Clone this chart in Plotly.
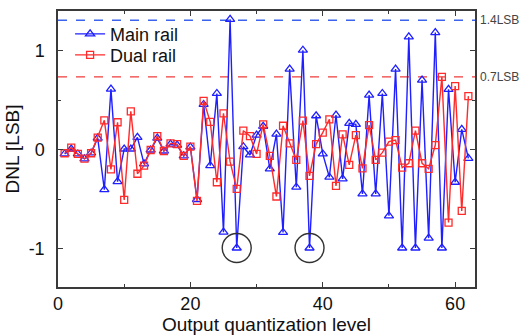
import plotly.graph_objects as go

# Output code index
levels = list(range(1, 63))

# DNL of the main-rail converter (LSB)
main_rail = [
    -0.04, 0.01, -0.04, -0.09, -0.03, 0.12, -0.40, 0.615, -0.32, 0.01,
    0.01, 0.128, -0.14, 0.0, 0.12, -0.01, 0.06, 0.05, -0.06, 0.03,
    -0.50, 0.46, -0.158, 0.571, -0.83, 1.32, -0.99, 0.033, -0.05, 0.15,
    0.24, -0.19, 0.161, -0.833, 0.817, -0.376, 1.008, -0.99, 0.346, -0.04,
    -0.275, 0.353, -0.292, 0.269, 0.259, -0.444, 0.554, -0.444, 0.571, -0.665,
    0.817, -0.99, 1.142, -0.99, 0.706, -0.89, 1.186, -0.99, 0.612, -0.326,
    0.208, -0.084,
]

# DNL of the dual-rail converter (LSB)
dual_rail = [
    -0.033, 0.023, -0.04, -0.088, -0.033, 0.124, 0.30, -0.195, 0.28, -0.504,
    0.39, -0.24, -0.158, 0.0, 0.14, -0.01, 0.067, 0.06, -0.06, 0.033,
    -0.514, 0.497, 0.285, -0.326, 0.37, -0.118, -0.393, 0.195, 0.141, -0.04,
    0.259, -0.06, -0.47, 0.245, 0.067, -0.10, 0.296, -0.262, 0.06, 0.175,
    0.31, -0.363, 0.158, -0.151, 0.151, -0.185, 0.252, -0.10, -0.027, 0.084,
    0.10, -0.178, -0.134, 0.195, -0.134, -0.19, 0.05, 0.739, -0.733, 0.645,
    -0.615, 0.544,
]

# Worst-case reference levels drawn as dashed lines
limit_main = 1.31
limit_dual = 0.739
limit_labels = ["1.4LSB", "0.7LSB"]

# Highlighted codes (circled)
circled_levels = [27, 38]

x_tickvals = [0, 20, 40, 60]
x_ticktext = ["0", "20", "40", "60"]
x_minor = [10, 30, 50]
y_tickvals = [-1, 0, 1]
y_ticktext = ["-1", "0", "1"]
y_minor = [-0.5, 0.5]

BLUE = "#1f1fff"
RED = "#ff2a2a"
AXIS = "#3a3a3a"
FONT = "Liberation Sans"

fig = go.Figure()

fig.add_trace(go.Scatter(
    x=levels, y=main_rail, name="Main rail", mode="lines+markers",
    legend="legend",
    line=dict(color=BLUE, width=1.4),
    marker=dict(symbol="triangle-up-open", size=8, color=BLUE,
                line=dict(color=BLUE, width=1.3)),
))
fig.add_trace(go.Scatter(
    x=levels, y=dual_rail, name="Dual rail", mode="lines+markers",
    legend="legend2",
    line=dict(color=RED, width=1.4),
    marker=dict(symbol="square-open", size=7, color=RED,
                line=dict(color=RED, width=1.3)),
))
fig.add_trace(go.Scatter(
    x=circled_levels,
    y=[main_rail[levels.index(c)] for c in circled_levels],
    mode="markers", showlegend=False, hoverinfo="skip",
    marker=dict(symbol="circle-open", size=29, color="#333333",
                line=dict(color="#333333", width=1.4)),
))

for val, col in [(limit_main, "#3b63ee"), (limit_dual, "#f03c3c")]:
    fig.add_shape(type="line", xref="paper", yref="y", x0=0, x1=1,
                  y0=val, y1=val, line=dict(color=col, width=1.4, dash="dash"),
                  layer="below")

for val, txt in zip([limit_main, limit_dual], limit_labels):
    fig.add_annotation(xref="paper", yref="y", x=1.0, y=val, text=txt,
                       showarrow=False, xanchor="left", xshift=3,
                       font=dict(family=FONT, size=12, color="#444444"))

axis_common = dict(
    showline=True, linecolor=AXIS, linewidth=1.5, mirror="ticks",
    ticks="inside", tickcolor=AXIS, tickwidth=1.2, ticklen=5,
    showgrid=False, zeroline=False, automargin=False,
    tickfont=dict(family=FONT, size=18, color="#111111"),
)

fig.update_xaxes(
    range=[0, 63], tickmode="array", tickvals=x_tickvals, ticktext=x_ticktext,
    minor=dict(tickmode="array", tickvals=x_minor, ticks="inside", ticklen=3,
               tickcolor=AXIS, tickwidth=1.2),
    ticklabelstandoff=0,
    title=dict(text="Output quantization level", standoff=0,
               font=dict(family=FONT, size=19, color="#111111")),
    **axis_common,
)
fig.update_yaxes(
    range=[-1.384, 1.404], tickmode="array", tickvals=y_tickvals,
    ticktext=y_ticktext,
    minor=dict(tickmode="array", tickvals=y_minor, ticks="inside", ticklen=3,
               tickcolor=AXIS, tickwidth=1.2),
    ticklabelstandoff=8,
    title=dict(text="DNL [LSB]", standoff=4,
               font=dict(family=FONT, size=19, color="#111111")),
    **axis_common,
)

legend_style = dict(xanchor="left", yanchor="middle",
                    bgcolor="rgba(0,0,0,0)", borderwidth=0,
                    font=dict(family=FONT, size=18, color="#111111"))

fig.update_layout(
    width=520, height=336,
    margin=dict(l=58, r=45, t=11, b=49),
    paper_bgcolor="white", plot_bgcolor="white",
    legend=dict(x=0.029, y=0.916, **legend_style),
    legend2=dict(x=0.029, y=0.840, **legend_style),
    showlegend=True,
)

fig.write_html("out.html")
